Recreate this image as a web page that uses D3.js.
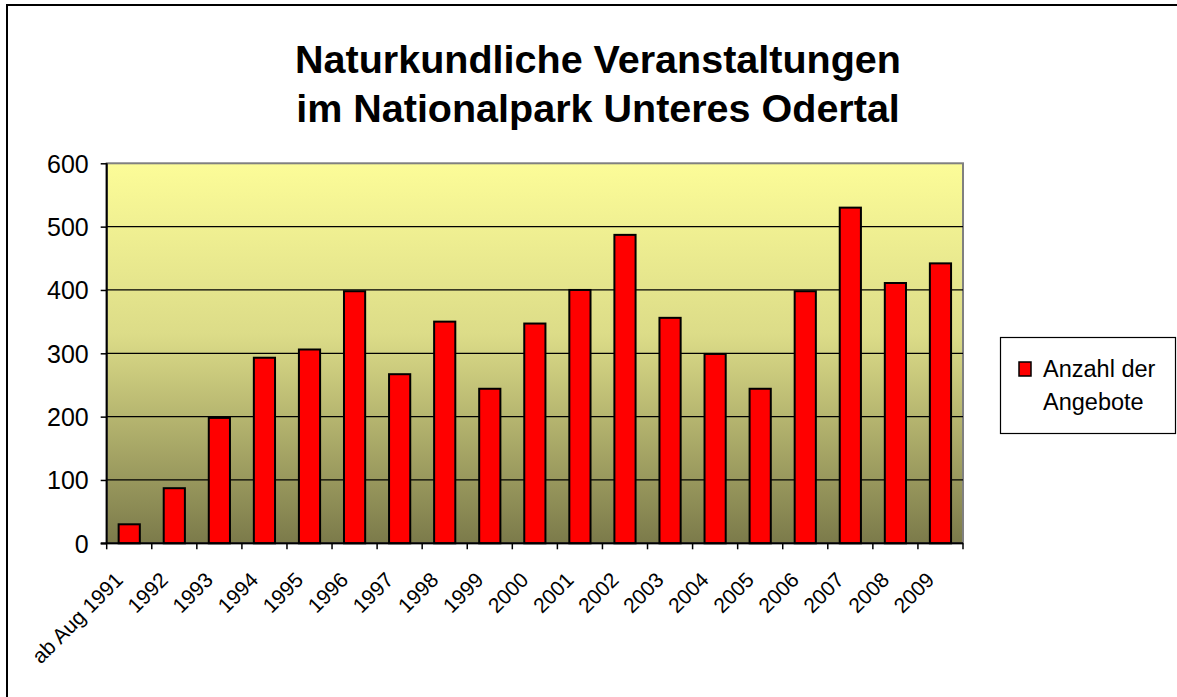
<!DOCTYPE html>
<html>
<head>
<meta charset="utf-8">
<script src="https://cdn.jsdelivr.net/npm/d3@7"></script>
<style>
  body { margin: 0; background: #fff; overflow: hidden; }
  text { font-family: "Liberation Sans", Arial, sans-serif; fill: #000; }
</style>
</head>
<body>
<script>
// Anzahl naturkundlicher Veranstaltungen pro Jahr
var years = ["ab Aug 1991", "1992", "1993", "1994", "1995", "1996", "1997", "1998", "1999", "2000",
             "2001", "2002", "2003", "2004", "2005", "2006", "2007", "2008", "2009"];
var angebote = [30, 87, 198, 293, 306, 398, 267, 350, 244, 347,
                400, 487, 356, 299, 244, 398, 530, 411, 442];
var yTicks = [0, 100, 200, 300, 400, 500, 600];
var seriesName = ["Anzahl der", "Angebote"];
var titleLines = ["Naturkundliche Veranstaltungen", "im Nationalpark Unteres Odertal"];

var W = 1177, H = 697;
var plot = { left: 106.7, top: 163.3, right: 963, bottom: 543.3 };

var svg = d3.select("body").append("svg")
    .attr("width", W)
    .attr("height", H)
    .style("display", "block");

// outer chart frame (only top and left visible)
svg.append("path")
    .attr("d", "M7,697 V5 H1177")
    .attr("fill", "none")
    .attr("stroke", "#000")
    .attr("stroke-width", 2);

// title
svg.append("g").selectAll("text")
    .data(titleLines)
    .enter().append("text")
    .attr("x", 598)
    .attr("y", function(d, i) { return 73 + i * 49; })
    .attr("text-anchor", "middle")
    .attr("font-size", 39.5)
    .attr("font-weight", "bold")
    .text(function(d) { return d; });

var xscale = d3.scaleBand()
    .domain(years)
    .range([plot.left, plot.right])
    .padding(0);
var yscale = d3.scaleLinear()
    .domain([0, 600])
    .range([plot.bottom, plot.top]);

// background gradient
var grad = svg.append("defs").append("linearGradient")
    .attr("id", "bg")
    .attr("x1", 0).attr("y1", 0).attr("x2", 0).attr("y2", 1);
grad.append("stop").attr("offset", "0%").attr("stop-color", "#fcfc98");
grad.append("stop").attr("offset", "45%").attr("stop-color", "#dcdc88");
grad.append("stop").attr("offset", "100%").attr("stop-color", "#7b7a4a");

svg.append("rect")
    .attr("x", plot.left)
    .attr("y", plot.top)
    .attr("width", plot.right - plot.left)
    .attr("height", plot.bottom - plot.top)
    .attr("fill", "url(#bg)")
    .attr("stroke", "#808080")
    .attr("stroke-width", 2);

// gridlines
svg.append("g").selectAll("line")
    .data(yTicks.slice(1, -1))
    .enter().append("line")
    .attr("x1", plot.left).attr("x2", plot.right)
    .attr("y1", function(d) { return yscale(d); })
    .attr("y2", function(d) { return yscale(d); })
    .attr("stroke", "#000")
    .attr("stroke-width", 1.2);

// bars
var bw = xscale.step() * 0.47;
svg.append("g").selectAll("rect")
    .data(angebote)
    .enter().append("rect")
    .attr("x", function(d, i) { return xscale(years[i]) + xscale.bandwidth() / 2 - bw / 2; })
    .attr("y", function(d) { return yscale(d); })
    .attr("width", bw)
    .attr("height", function(d) { return yscale(0) - yscale(d); })
    .attr("fill", "#ff0000")
    .attr("stroke", "#000")
    .attr("stroke-width", 2);

// y axis
var yAxis = d3.axisLeft(yscale)
    .tickValues(yTicks)
    .tickSize(6)
    .tickPadding(12);
var gy = svg.append("g")
    .attr("transform", "translate(" + plot.left + ",0)")
    .call(yAxis);
gy.select(".domain").attr("stroke", "#000").attr("stroke-width", 2).attr("d", "M0," + plot.top + "V" + plot.bottom);
gy.selectAll(".tick line").attr("stroke", "#000").attr("stroke-width", 1.5);
gy.selectAll(".tick text")
    .attr("font-size", 25)
    .attr("font-family", "Liberation Sans, Arial, sans-serif")
    .attr("dy", "0.36em");

// x axis: ticks on category boundaries
var boundaries = years.map(function(d) { return xscale(d); }).concat([plot.right]);
var gx = svg.append("g");
gx.append("line")
    .attr("x1", plot.left - 6).attr("x2", plot.right)
    .attr("y1", plot.bottom).attr("y2", plot.bottom)
    .attr("stroke", "#000").attr("stroke-width", 2);
gx.selectAll("line.tk")
    .data(boundaries)
    .enter().append("line")
    .attr("class", "tk")
    .attr("x1", function(d) { return d; }).attr("x2", function(d) { return d; })
    .attr("y1", plot.bottom).attr("y2", plot.bottom + 6)
    .attr("stroke", "#000").attr("stroke-width", 1.5);
gx.selectAll("text")
    .data(years)
    .enter().append("text")
    .attr("text-anchor", "end")
    .attr("font-size", 21)
    .attr("transform", function(d) {
        return "translate(" + (xscale(d) + xscale.bandwidth() / 2 - 5) + "," + (plot.bottom + 38) + ") rotate(-45)";
    })
    .text(function(d) { return d; });

// legend
var lg = svg.append("g");
lg.append("rect")
    .attr("x", 1000.5).attr("y", 337.5)
    .attr("width", 175).attr("height", 96)
    .attr("fill", "#fff")
    .attr("stroke", "#000")
    .attr("stroke-width", 1.2);
lg.append("rect")
    .attr("x", 1019).attr("y", 362)
    .attr("width", 12).attr("height", 14)
    .attr("fill", "#ff0000")
    .attr("stroke", "#000")
    .attr("stroke-width", 1.5);
lg.selectAll("text.lab")
    .data(seriesName)
    .enter().append("text")
    .attr("class", "lab")
    .attr("x", 1043)
    .attr("y", function(d, i) { return 377 + i * 33; })
    .attr("font-size", 23.5)
    .text(function(d) { return d; });
</script>
</body>
</html>
